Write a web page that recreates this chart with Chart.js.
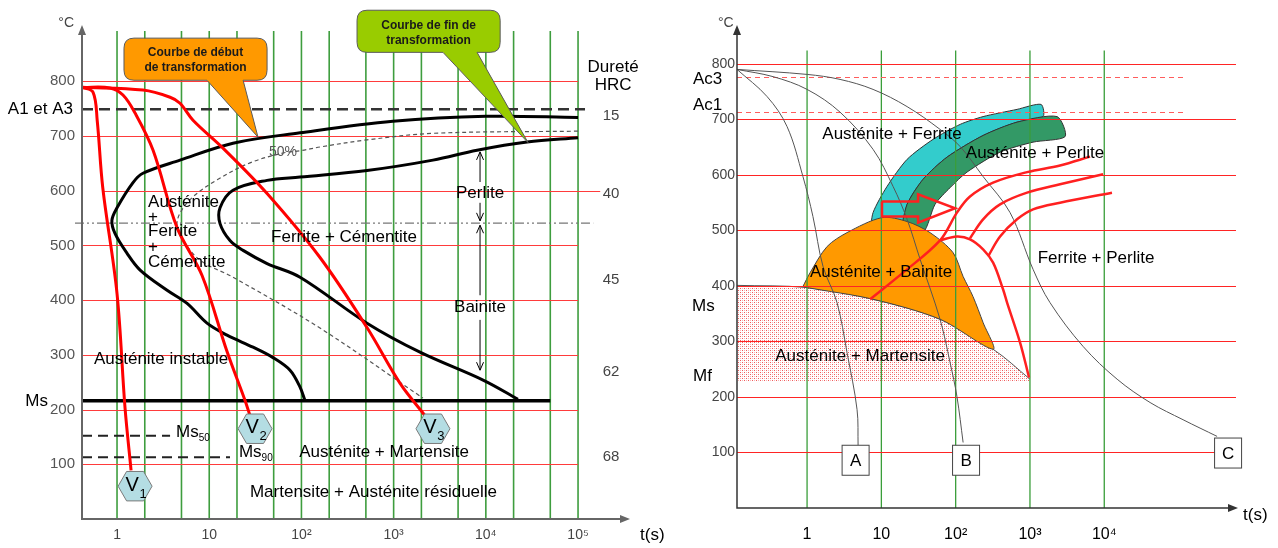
<!DOCTYPE html>
<html>
<head>
<meta charset="utf-8">
<script src="https://cdn.jsdelivr.net/npm/chart.js@4.4.1/dist/chart.umd.min.js"></script>
<style>
html, body { margin: 0; padding: 0; background: #fff; }
#wrap { position: relative; width: 1278px; height: 548px; overflow: hidden; }
canvas { position: absolute; top: 0; }
#ttt { left: 0; }
#cct { left: 640px; }
</style>
</head>
<body>
<div id="wrap">
  <canvas id="ttt" width="690" height="548"></canvas>
  <canvas id="cct" width="638" height="548"></canvas>
</div>
<script>
const FONT = '"Liberation Sans", Arial, sans-serif';

// ---- shared ----
const tempTicks = [100, 200, 300, 400, 500, 600, 700, 800];

// ---- TTT diagram (left) ----
const tttTimeTicks = [1, 10, 100, 1000, 10000, 100000];
const tttTimeLabels = ['1', '10', '10²', '10³', '10⁴', '10⁵'];
const tttGridTimes = [1, 2, 5, 10, 20, 50, 100, 200, 500, 1000, 2000, 5000, 10000, 20000, 50000, 100000];

// cooling curves V1, V2, V3 (t in s, T in °C)
const v1Time = [0.42, 0.55, 0.61, 0.70, 1.0, 1.22, 1.42];
const v1Temp = [789, 780, 728, 606, 412, 204, 89];
const v2Time = [0.42, 0.84, 1.16, 1.57, 2.46, 4.47, 8.36, 15.6, 24.4, 27.7];
const v2Temp = [789, 788, 775, 742, 674, 533, 445, 306, 217, 189];
const v3Time = [0.42, 1.91, 3.76, 4.82, 6.67, 14.1, 42.4, 159, 514, 1175, 2190];
const v3Temp = [789, 784, 771, 760, 729, 678, 595, 478, 350, 248, 189];

// transformation start / end / 50% curves
const startTime = [1e5, 1e4, 980, 96.6, 18.1, 4.82, 1.91, 1.49, 1.0, 0.88, 0.95, 1.28, 1.78, 3.49, 5.75, 9.46, 15.6, 29.9, 49.2, 75.2, 96.6, 109];
const startTemp = [734, 736, 727, 706, 687, 656, 632, 615, 569, 546, 522, 486, 455, 418, 394, 358, 336, 314, 295, 272, 241, 217];
const endTime = [1e5, 2.8e4, 8030, 2670, 514, 96.6, 42.4, 18.1, 13.1, 13.1, 16.8, 23.3, 42.4, 96.6, 514, 1930, 9330, 2.23e4];
const endTemp = [697, 689, 674, 656, 637, 625, 619, 601, 569, 540, 509, 491, 467, 442, 358, 305, 254, 219];
const halfTime = [1e5, 2670, 514, 159, 96.6, 63.1, 27.7, 12.2, 6.67, 4.82, 4.47, 5.2, 7.94, 18.1, 159, 2080];
const halfTemp = [709, 705, 693, 680, 673, 669, 651, 620, 589, 559, 534, 510, 473, 442, 349, 221];

// reference temperatures
const a1Temp = 749;
const splitTemp = 541;
const msTemp = 216;
const ms50Temp = 152;
const ms90Temp = 113;

// hardness column
const hrcValues = ['15', '40', '45', '62', '68'];
const hrcTemps = [737, 594, 437, 269, 113];

// end markers of the cooling curves
const hexLabels = ['1', '2', '3'];
const hexTime = [1.57, 31.4, 2670];
const hexTemp = [60, 165, 165];

// ---- CCT diagram (right) ----
const cctTimeTicks = [1, 10, 100, 1000, 10000];
const cctTimeLabels = ['1', '10', '10²', '10³', '10⁴'];
const ac3Temp = 776;
const ac1Temp = 713;
const mfTemp = 228;

const aTime = [0.114, 0.29, 0.538, 0.88, 1.2, 1.64, 2.53, 3.45, 4.71, 4.86];
const aTemp = [790, 741, 687, 597, 525, 435, 370, 280, 177, 113];
const bTime = [0.114, 0.348, 1, 2.78, 7.73, 14.4, 22.2, 33.2, 61.6, 84.1, 104, 126];
const bTemp = [790, 777, 754, 713, 646, 579, 520, 448, 340, 262, 201, 118];
const cTime = [0.114, 1, 2.78, 7.73, 22.2, 61.6, 115, 234, 540, 1100, 1860, 5190, 1.49e4, 4.14e4, 1.15e5, 3.3e5];
const cTemp = [790, 781, 772, 754, 723, 682, 651, 597, 532, 430, 370, 291, 232, 190, 159, 129];

const msCurveTime = [0.114, 1, 7.73, 61.6, 319, 1000];
const msCurveTemp = [401, 397, 376, 340, 286, 232];
const domeTime = [0.88, 1.1, 1.86, 3.45, 10.2, 22.2, 45.2, 92.2, 126, 171, 234, 319, 61.6, 7.73, 1, 0.88];
const domeTemp = [399, 424, 471, 496, 523, 516, 496, 460, 417, 381, 334, 286, 340, 376, 397, 399];
const cyanTime = [7.05, 7.73, 11.9, 22.2, 49.6, 115, 234, 670, 1410, 1500, 670, 234, 76.6, 36.4, 22.2, 17.9, 7.05];
const cyanTemp = [493, 532, 579, 628, 664, 691, 705, 718, 727, 705, 695, 671, 632, 592, 547, 493, 493];
const greenTime = [17.9, 22.2, 36.4, 76.6, 234, 670, 2320, 2970, 1100, 396, 142, 84.1, 52.8, 36.4, 17.9];
const greenTemp = [493, 547, 592, 632, 671, 695, 705, 669, 659, 641, 605, 577, 547, 496, 493];

const redTopTime = [7.05, 19.6, 61.6, 104, 156, 319, 914, 2540, 6440];
const redTopTemp = [376, 424, 482, 532, 561, 586, 605, 617, 633];
const redDomeTime = [61.6, 104, 156, 234, 319, 434, 492, 736, 972];
const redDomeTemp = [482, 489, 484, 466, 442, 394, 370, 298, 235];
const redMidTime = [156, 234, 396, 914, 2540, 9640];
const redMidTemp = [486, 520, 547, 568, 583, 601];
const redLowTime = [273, 396, 670, 1100, 2540, 12700];
const redLowTemp = [453, 489, 520, 538, 550, 568];
const arrowTime = [10.2, 31.2, 31.2, 98.2, 31.2, 31.2, 10.2, 10.2];
const arrowTemp = [552, 552, 565, 540, 514, 525, 525, 552];

const boxLabels = ['A', 'B', 'C'];
const boxTime = [4.5, 138, 4.64e5];
const boxTemp = [86, 86, 99];

// text annotations, anchored in data units
const tttNotes = [
  { text: 'Austénite', t: 2.17, T: 579, align: 'left' },
  { text: '+', t: 2.17, T: 552, align: 'left' },
  { text: 'Ferrite', t: 2.17, T: 525, align: 'left' },
  { text: '+', t: 2.17, T: 497, align: 'left' },
  { text: 'Cémentite', t: 2.17, T: 470, align: 'left' },
  { text: 'Ferrite + Cémentite', t: 290, T: 515 },
  { text: '50%', t: 63.1, T: 671, size: 14, color: '#555' },
  { text: 'Perlite', t: 8650, T: 596 },
  { text: 'Bainite', t: 8650, T: 387 },
  { text: 'Austénite instable', t: 3.0, T: 292 },
  { text: 'Austénite + Martensite', t: 787, T: 122 },
  { text: 'Martensite + Austénite résiduelle', t: 605, T: 49 },
  { text: 'Dureté', t: 2.4e5, T: 826 },
  { text: 'HRC', t: 2.4e5, T: 793 }
];
const cctNotes = [
  { text: 'Austénite + Ferrite', t: 13.9, T: 673 },
  { text: 'Austénite + Perlite', t: 1170, T: 639 },
  { text: 'Austénite + Bainite', t: 9.9, T: 424 },
  { text: 'Austénite + Martensite', t: 5.17, T: 273 },
  { text: 'Ferrite + Perlite', t: 7760, T: 450 }
];
// Perlite / Bainite range arrows: [time, from T, to T]
const rangeArrows = [[8650, 616, 671], [8650, 578, 545], [8650, 409, 537], [8650, 364, 272]];

const callouts = [
  { lines: ['Courbe de début', 'de transformation'], left: 1.19, right: 42.4, top: 879, bottom: 802,
    base: [9.46, 23.3], tip: [33.8, 698], color: '#ff9900' },
  { lines: ['Courbe de fin de', 'transformation'], left: 401, right: 1.43e4, top: 930, bottom: 853,
    base: [3430, 8030], tip: [2.87e4, 688], color: '#99cc00' }
];

Chart.defaults.font.family = FONT;
Chart.defaults.animation = false;

function pts(times, temps) {
  return times.map((t, i) => ({ x: t, y: temps[i] }));
}

function curve(times, temps, color, width, extra) {
  return Object.assign({
    data: pts(times, temps), showLine: true, borderColor: color, borderWidth: width,
    pointRadius: 0, fill: false, tension: 0.35
  }, extra || {});
}

function flat(t0, t1, temp, color, width, dash, extra) {
  return curve([t0, t1], [temp, temp], color, width, Object.assign({ tension: 0, borderDash: dash || [] }, extra || {}));
}

function timeAxis(min, max, ticks, labels, height, pad, size, color) {
  return {
    type: 'logarithmic', min: min, max: max,
    afterBuildTicks: s => { s.ticks = ticks.map(v => ({ value: v })); },
    afterFit: s => { s.height = height; },
    ticks: { padding: pad, color: color, font: { size: size }, maxRotation: 0, autoSkip: false,
      callback: (v, i) => labels[i] },
    grid: { display: false, drawTicks: false },
    border: { display: false }
  };
}

function tempAxis(max, width, pad, size, color) {
  return {
    type: 'linear', min: 0, max: max,
    afterBuildTicks: s => { s.ticks = tempTicks.map(v => ({ value: v })); },
    afterFit: s => { s.width = width; },
    ticks: { padding: pad, color: color, font: { size: size } },
    grid: { display: false, drawTicks: false },
    border: { display: false }
  };
}

function drawGrid(chart, g) {
  const { ctx, chartArea: a, scales: { x, y } } = chart;
  ctx.save();
  ctx.strokeStyle = g.green;
  ctx.lineWidth = g.greenWidth;
  g.times.forEach(t => {
    const px = x.getPixelForValue(t);
    ctx.beginPath();
    ctx.moveTo(px, y.getPixelForValue(g.greenTop));
    ctx.lineTo(px, a.bottom);
    ctx.stroke();
  });
  ctx.strokeStyle = g.red;
  ctx.lineWidth = 1;
  tempTicks.forEach(T => {
    const py = Math.round(y.getPixelForValue(T)) + 0.5;
    const long = g.long && g.long.temp === T;
    ctx.beginPath();
    ctx.moveTo(long ? x.getPixelForValue(g.long.from) : a.left, py);
    ctx.lineTo(x.getPixelForValue(long ? g.long.to : g.redEnd), py);
    ctx.stroke();
  });
  (g.dashed || []).forEach(T => {
    const py = Math.round(y.getPixelForValue(T)) + 0.5;
    ctx.setLineDash([5, 4]);
    ctx.strokeStyle = '#ff5c5c';
    ctx.beginPath();
    ctx.moveTo(a.left, py);
    ctx.lineTo(x.getPixelForValue(g.dashEnd), py);
    ctx.stroke();
  });
  ctx.restore();
}

function drawAxes(ctx, a, color, width) {
  ctx.save();
  ctx.strokeStyle = color;
  ctx.fillStyle = color;
  ctx.lineWidth = width;
  ctx.beginPath();
  ctx.moveTo(a.left, a.top + 4);
  ctx.lineTo(a.left, a.bottom);
  ctx.lineTo(a.right - 4, a.bottom);
  ctx.stroke();
  ctx.beginPath();
  ctx.moveTo(a.left, a.top);
  ctx.lineTo(a.left - 4, a.top + 10);
  ctx.lineTo(a.left + 4, a.top + 10);
  ctx.closePath();
  ctx.fill();
  ctx.beginPath();
  ctx.moveTo(a.right, a.bottom);
  ctx.lineTo(a.right - 10, a.bottom - 4);
  ctx.lineTo(a.right - 10, a.bottom + 4);
  ctx.closePath();
  ctx.fill();
  ctx.restore();
}

function drawNotes(ctx, x, y, notes, size, color) {
  notes.forEach(n => {
    ctx.font = (n.size || size) + 'px ' + FONT;
    ctx.fillStyle = n.color || color;
    ctx.textAlign = n.align || 'center';
    ctx.textBaseline = 'middle';
    ctx.fillText(n.text, x.getPixelForValue(n.t), y.getPixelForValue(n.T));
  });
}

function drawSubLabel(ctx, main, sub, px, py, size, subSize) {
  ctx.textAlign = 'left';
  ctx.textBaseline = 'middle';
  ctx.fillStyle = '#000';
  ctx.font = size + 'px ' + FONT;
  ctx.fillText(main, px, py);
  const w = ctx.measureText(main).width;
  ctx.font = subSize + 'px ' + FONT;
  ctx.fillText(sub, px + w, py + size * 0.35);
}

function drawArrow(ctx, px, y0, y1) {
  const dir = y1 < y0 ? -1 : 1;
  ctx.beginPath();
  ctx.moveTo(px, y0);
  ctx.lineTo(px, y1);
  ctx.stroke();
  ctx.beginPath();
  ctx.moveTo(px - 3.5, y1 - dir * 8);
  ctx.lineTo(px, y1);
  ctx.lineTo(px + 3.5, y1 - dir * 8);
  ctx.stroke();
}

function drawCallout(ctx, x, y, c) {
  const x0 = x.getPixelForValue(c.left), x1 = x.getPixelForValue(c.right);
  const y0 = y.getPixelForValue(c.top), y1 = y.getPixelForValue(c.bottom);
  const b0 = x.getPixelForValue(c.base[0]), b1 = x.getPixelForValue(c.base[1]);
  const tx = x.getPixelForValue(c.tip[0]), ty = y.getPixelForValue(c.tip[1]);
  const r = 10;
  ctx.save();
  ctx.beginPath();
  ctx.moveTo(x0 + r, y0);
  ctx.lineTo(x1 - r, y0);
  ctx.quadraticCurveTo(x1, y0, x1, y0 + r);
  ctx.lineTo(x1, y1 - r);
  ctx.quadraticCurveTo(x1, y1, x1 - r, y1);
  ctx.lineTo(b1, y1);
  ctx.lineTo(tx, ty);
  ctx.lineTo(b0, y1);
  ctx.lineTo(x0 + r, y1);
  ctx.quadraticCurveTo(x0, y1, x0, y1 - r);
  ctx.lineTo(x0, y0 + r);
  ctx.quadraticCurveTo(x0, y0, x0 + r, y0);
  ctx.closePath();
  ctx.fillStyle = c.color;
  ctx.fill();
  ctx.strokeStyle = '#5a5a5a';
  ctx.lineWidth = 1;
  ctx.stroke();
  ctx.fillStyle = '#1a1a1a';
  ctx.font = 'bold 12px ' + FONT;
  ctx.textAlign = 'center';
  ctx.textBaseline = 'middle';
  c.lines.forEach((ln, i) => ctx.fillText(ln, (x0 + x1) / 2, y0 + 15 + i * 15));
  ctx.restore();
}

function drawHex(ctx, cx, cy, r, label) {
  ctx.beginPath();
  for (let k = 0; k < 6; k++) {
    const ang = k * Math.PI / 3;
    const px = cx + r * Math.cos(ang), py = cy + r * Math.sin(ang);
    if (k === 0) ctx.moveTo(px, py); else ctx.lineTo(px, py);
  }
  ctx.closePath();
  ctx.fillStyle = '#b4dde3';
  ctx.fill();
  ctx.strokeStyle = '#7a7a7a';
  ctx.lineWidth = 1;
  ctx.stroke();
  ctx.fillStyle = '#000';
  ctx.font = '20px ' + FONT;
  ctx.textAlign = 'center';
  ctx.textBaseline = 'middle';
  ctx.fillText('V', cx - 3, cy - 1);
  ctx.font = '13px ' + FONT;
  ctx.fillText(label, cx + 8, cy + 8);
}

// ---------- left chart ----------
const tttMin = 0.417;
const tttPlugin = {
  id: 'tttDecor',
  beforeDatasetsDraw(chart) {
    drawGrid(chart, { times: tttGridTimes, greenTop: 892, green: '#3e9d3e', greenWidth: 1.6,
      red: '#ff3b3b', redEnd: 1e5, long: { temp: 600, from: 0.7, to: 1.74e5 } });
  },
  afterDatasetsDraw(chart) {
    const { ctx, chartArea: a, scales: { x, y } } = chart;
    ctx.save();
    drawAxes(ctx, a, '#666', 2);
    drawNotes(ctx, x, y, tttNotes, 17, '#000');
    // hardness values
    ctx.font = '15px ' + FONT;
    ctx.fillStyle = '#444';
    ctx.textAlign = 'center';
    hrcValues.forEach((v, i) => ctx.fillText(v, x.getPixelForValue(2.28e5), y.getPixelForValue(hrcTemps[i])));
    // labels left of the axis
    ctx.fillStyle = '#000';
    ctx.font = '17px ' + FONT;
    ctx.textAlign = 'right';
    ctx.fillText('A1 et A3', a.left - 9, y.getPixelForValue(a1Temp));
    ctx.fillText('Ms', a.left - 34, y.getPixelForValue(msTemp));
    ctx.font = '14px ' + FONT;
    ctx.fillStyle = '#444';
    ctx.fillText('°C', a.left - 8, a.top - 2);
    ctx.textAlign = 'left';
    ctx.fillStyle = '#000';
    ctx.font = '17px ' + FONT;
    ctx.fillText('t(s)', a.right + 10, a.bottom + 16);
    drawSubLabel(ctx, 'Ms', '50', x.getPixelForValue(4.37), y.getPixelForValue(159), 17, 10);
    drawSubLabel(ctx, 'Ms', '90', x.getPixelForValue(21.0), y.getPixelForValue(122), 17, 10);
    // Perlite / Bainite arrows
    ctx.strokeStyle = '#000';
    ctx.lineWidth = 1;
    rangeArrows.forEach(r => drawArrow(ctx, x.getPixelForValue(r[0]), y.getPixelForValue(r[1]), y.getPixelForValue(r[2])));
    hexLabels.forEach((lab, i) => drawHex(ctx, x.getPixelForValue(hexTime[i]), y.getPixelForValue(hexTemp[i]), 17, lab));
    ctx.restore();
  },
  afterDraw(chart) {
    const { ctx, scales: { x, y } } = chart;
    callouts.forEach(c => drawCallout(ctx, x, y, c));
  }
};

new Chart(document.getElementById('ttt'), {
  type: 'scatter',
  data: {
    datasets: [
      curve(v1Time, v1Temp, '#ff0000', 3, { order: 1 }),
      curve(v2Time, v2Temp, '#ff0000', 3, { order: 1 }),
      curve(v3Time, v3Temp, '#ff0000', 3, { order: 1 }),
      curve(startTime, startTemp, '#000', 3, { order: 2 }),
      curve(endTime, endTemp, '#000', 3, { order: 2 }),
      curve(halfTime, halfTemp, '#555', 1.2, { order: 2, borderDash: [4, 3] }),
      flat(tttMin, 5e4, msTemp, '#000', 3.5, null, { order: 3 }),
      flat(tttMin, 1.19e5, a1Temp, '#333', 2.5, [11, 6], { order: 3, clip: false }),
      flat(0.35, 1.46e5, splitTemp, '#777', 1.3, [9, 3, 2, 3, 2, 3], { order: 3, clip: false }),
      flat(tttMin, 3.76, ms50Temp, '#222', 2, [10, 6], { order: 3 }),
      flat(tttMin, 16.8, ms90Temp, '#222', 2, [10, 6], { order: 3 })
    ]
  },
  options: {
    responsive: false,
    events: [],
    layout: { padding: { top: 25, right: 60, left: 0, bottom: 0 } },
    plugins: { legend: { display: false }, tooltip: { enabled: false } },
    scales: {
      x: timeAxis(tttMin, 3.66e5, tttTimeTicks, tttTimeLabels, 29, 8, 14, '#444'),
      y: tempAxis(903, 82, 7, 15, '#555')
    }
  },
  plugins: [tttPlugin]
});

// ---------- right chart ----------
function dotPattern() {
  const c = document.createElement('canvas');
  c.width = 4; c.height = 4;
  const g = c.getContext('2d');
  g.fillStyle = '#ffffff';
  g.fillRect(0, 0, 4, 4);
  g.fillStyle = '#f05a5a';
  g.fillRect(0, 0, 1, 1);
  g.fillRect(2, 2, 1, 1);
  g.fillStyle = '#f8b4b4';
  g.fillRect(2, 0, 1, 1);
  g.fillRect(0, 2, 1, 1);
  return g.createPattern(c, 'repeat');
}

const cctMin = 0.114;
const cctPlugin = {
  id: 'cctDecor',
  beforeDatasetDraw(chart, args) {
    if (chart.data.datasets[args.index].gridBefore) {
      drawGrid(chart, { times: cctTimeTicks, greenTop: 824, green: '#3a9e3a', greenWidth: 1.3,
        red: '#ff2424', redEnd: 5.93e5, dashed: [ac3Temp, ac1Temp], dashEnd: 1.3e5 });
    }
  },
  afterDatasetsDraw(chart) {
    const { ctx, chartArea: a, scales: { x, y } } = chart;
    ctx.save();
    drawAxes(ctx, a, '#333', 1.5);
    drawNotes(ctx, x, y, cctNotes, 17, '#000');
    // marker boxes for the cooling curves
    boxLabels.forEach((lab, i) => {
      const cx = x.getPixelForValue(boxTime[i]), cy = y.getPixelForValue(boxTemp[i]);
      ctx.fillStyle = '#fff';
      ctx.fillRect(cx - 13.5, cy - 15, 27, 30);
      ctx.strokeStyle = '#444';
      ctx.lineWidth = 1;
      ctx.strokeRect(cx - 13.5, cy - 15, 27, 30);
      ctx.fillStyle = '#000';
      ctx.font = '17px ' + FONT;
      ctx.textAlign = 'center';
      ctx.textBaseline = 'middle';
      ctx.fillText(lab, cx, cy + 1);
    });
    ctx.fillStyle = '#000';
    ctx.font = '17px ' + FONT;
    ctx.textAlign = 'left';
    ctx.textBaseline = 'middle';
    ctx.fillText('Ac3', a.left - 44, y.getPixelForValue(772));
    ctx.fillText('Ac1', a.left - 44, y.getPixelForValue(725));
    ctx.fillText('Ms', a.left - 45, y.getPixelForValue(363));
    ctx.fillText('Mf', a.left - 44, y.getPixelForValue(237));
    ctx.fillText('t(s)', a.right + 5, a.bottom + 7);
    ctx.font = '14px ' + FONT;
    ctx.fillStyle = '#444';
    ctx.fillText('°C', a.left - 19, a.top - 2);
    ctx.restore();
  }
};

new Chart(document.getElementById('cct'), {
  type: 'scatter',
  data: {
    datasets: [
      curve(arrowTime, arrowTemp, '#ff2020', 2.5, { order: 1, tension: 0 }),
      curve(redTopTime, redTopTemp, '#ff2020', 2.5, { order: 1 }),
      curve(redDomeTime, redDomeTemp, '#ff2020', 2.5, { order: 1 }),
      curve(redMidTime, redMidTemp, '#ff2020', 2.5, { order: 1 }),
      curve(redLowTime, redLowTemp, '#ff2020', 2.5, { order: 1 }),
      curve(aTime, aTemp, '#555', 1, { order: 2 }),
      curve(bTime, bTemp, '#555', 1, { order: 2 }),
      curve(cTime, cTemp, '#555', 1, { order: 2 }),
      { data: [], gridBefore: true, order: 5 },
      curve(domeTime, domeTemp, '#444', 1, { order: 6, tension: 0.3, fill: 'shape', backgroundColor: '#ff9900' }),
      curve(greenTime, greenTemp, '#333', 1, { order: 7, tension: 0.25, fill: 'shape', backgroundColor: '#339966' }),
      curve(cyanTime, cyanTemp, '#333', 1, { order: 8, tension: 0.25, fill: 'shape', backgroundColor: '#33cccc' }),
      curve(msCurveTime, msCurveTemp, '#555', 1, { order: 9, fill: { value: mfTemp }, backgroundColor: dotPattern() })
    ]
  },
  options: {
    responsive: false,
    events: [],
    layout: { padding: { top: 25, right: 40, left: 0, bottom: 0 } },
    plugins: { legend: { display: false }, tooltip: { enabled: false } },
    scales: {
      x: timeAxis(cctMin, 6.31e5, cctTimeTicks, cctTimeLabels, 40, 17, 16, '#000'),
      y: tempAxis(870, 97, 2, 14, '#444')
    }
  },
  plugins: [cctPlugin]
});
</script>
</body>
</html>
